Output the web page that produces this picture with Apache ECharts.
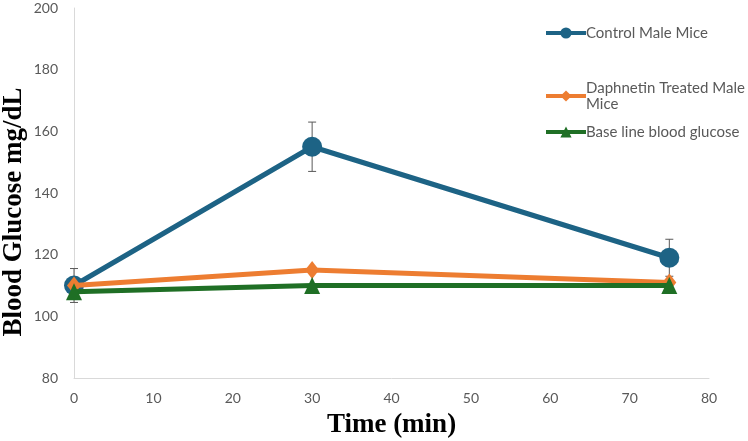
<!DOCTYPE html>
<html>
<head>
<meta charset="utf-8">
<script src="https://cdn.jsdelivr.net/npm/echarts@6/dist/echarts.min.js"></script>
<style>
  html, body { margin: 0; padding: 0; background: #fff; }
  #chart { width: 748px; height: 441px; }
</style>
</head>
<body>
<div id="chart"></div>
<script>
// time points (min)
const times = [0, 30, 75]
const control = [110, 155, 119]
const controlErr = [5.5, 8, 6]
const daphnetin = [110, 115, 111]
const baseline = [108, 110, 110]

const names = ['Control Male Mice', 'Daphnetin Treated Male Mice', 'Base line blood glucose']

const chart = echarts.init(document.getElementById('chart'))

const pairs = arr => times.map((t, i) => [t, arr[i]])
const errData = times.map((t, i) => [t, control[i] - controlErr[i], control[i] + controlErr[i]])

const labelFont = {color: '#595959', fontSize: 14, fontFamily: 'Lato'}

function legendAt(name, top) {
    return {
        data: [name], left: 539, top: top, orient: 'vertical',
        itemWidth: 40, itemHeight: 14, itemGap: 0,
        lineStyle: {width: 4},
        formatter: n => n === names[1] ? 'Daphnetin Treated Male\nMice' : n,
        textStyle: {color: '#595959', fontSize: 15, fontFamily: 'Lato', lineHeight: 16, padding: [0, 0, 0, -5]}
    }
}

chart.setOption({
    animation: false,
    grid: {left: 74, right: 39, top: 8, bottom: 63, outerBoundsMode: 'none'},
    legend: [legendAt(names[0], 20), legendAt(names[1], 75), legendAt(names[2], 119)],
    xAxis: {
        type: 'value', min: 0, max: 80, interval: 10,
        axisLine: {lineStyle: {color: '#d9d9d9'}},
        axisTick: {show: false},
        splitLine: {show: false},
        axisLabel: Object.assign({margin: 13}, labelFont),
        name: 'Time (min)', nameLocation: 'middle', nameGap: 34,
        nameTextStyle: {fontFamily: 'Liberation Serif', fontWeight: 'bold', fontSize: 27, color: '#000'}
    },
    yAxis: {
        type: 'value', min: 80, max: 200, interval: 20,
        axisLine: {show: true, lineStyle: {color: '#d9d9d9'}},
        axisTick: {show: false},
        splitLine: {show: false},
        axisLabel: Object.assign({margin: 16}, labelFont),
        name: 'Blood Glucose mg/dL', nameLocation: 'middle', nameGap: 46, nameMoveOverlap: false,
        nameTextStyle: {fontFamily: 'Liberation Serif', fontWeight: 'bold', fontSize: 27, color: '#000', padding: [0, 38, 0, 0]}
    },
    series: [
        {
            type: 'custom', name: 'err', z: 1, silent: true,
            data: errData,
            renderItem: (params, api) => {
                const lo = api.coord([api.value(0), api.value(1)])
                const hi = api.coord([api.value(0), api.value(2)])
                const w = 4
                const style = {stroke: '#595959', lineWidth: 1}
                return {
                    type: 'group',
                    children: [
                        {type: 'line', shape: {x1: lo[0], y1: lo[1], x2: hi[0], y2: hi[1]}, style},
                        {type: 'line', shape: {x1: lo[0] - w, y1: lo[1], x2: lo[0] + w, y2: lo[1]}, style},
                        {type: 'line', shape: {x1: hi[0] - w, y1: hi[1], x2: hi[0] + w, y2: hi[1]}, style}
                    ]
                }
            }
        },
        {
            name: names[0], type: 'line', data: pairs(control), z: 2,
            symbol: 'circle', symbolSize: 20,
            lineStyle: {width: 5, color: '#1d6385'},
            itemStyle: {color: '#1d6385'}
        },
        {
            name: names[1], type: 'line', data: pairs(daphnetin), z: 3,
            symbol: 'diamond', symbolSize: [14, 18],
            lineStyle: {width: 5, color: '#ed7d31'},
            itemStyle: {color: '#ed7d31'}
        },
        {
            name: names[2], type: 'line', data: pairs(baseline), z: 4,
            symbol: 'triangle', symbolSize: [16, 17],
            lineStyle: {width: 5, color: '#1f6f25'},
            itemStyle: {color: '#1f6f25'}
        }
    ]
})
</script>
</body>
</html>
